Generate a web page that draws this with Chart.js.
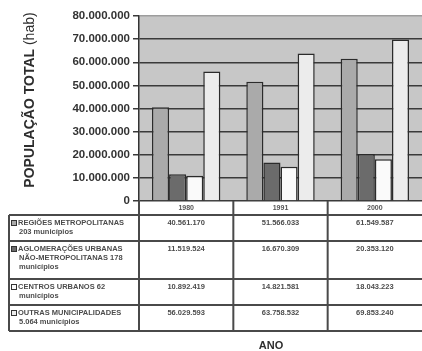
<!DOCTYPE html>
<html>
<head>
<meta charset="utf-8">
<script src="https://cdn.jsdelivr.net/npm/chart.js@4/dist/chart.umd.min.js"></script>
<style>
  html, body { margin: 0; padding: 0; background: #ffffff; }
  #wrap { width: 422px; height: 351px; position: relative; }
</style>
</head>
<body>
<div id="wrap"><canvas id="c"></canvas></div>
<script>
// Population by urban category, Brazil census years
const years = ['1980', '1991', '2000'];
const regioesMetropolitanas = [40561170, 51566033, 61549587];
const aglomeracoesUrbanas = [11519524, 16670309, 20353120];
const centrosUrbanos = [10892419, 14821581, 18043223];
const outrasMunicipalidades = [56029593, 63758532, 69853240];

const seriesLabels = [
  ['REGIÕES METROPOLITANAS', '203 municípios'],
  ['AGLOMERAÇÕES URBANAS', 'NÃO-METROPOLITANAS 178', 'municípios'],
  ['CENTROS URBANOS 62', 'municípios'],
  ['OUTRAS MUNICIPALIDADES', '5.064 municípios']
];
const seriesColors = ['#aaaaaa', '#6b6b6b', '#fafafa', '#ececec'];
const yTitleBold = 'POPULAÇÃO TOTAL ';
const yTitleRegular = '(hab)';
const xTitle = 'ANO';

const FONT = '"Liberation Sans", Arial, sans-serif';

function fmt(n) {
  return String(Math.round(n)).replace(/\B(?=(\d{3})+(?!\d))/g, '.');
}

// Plot background
const plotBg = {
  id: 'plotBg',
  beforeDraw(chart) {
    const { ctx, chartArea: a } = chart;
    ctx.save();
    ctx.fillStyle = '#c7c7c7';
    ctx.fillRect(a.left, a.top, a.right - a.left, a.bottom - a.top);
    ctx.restore();
  }
};

// Rotated y-axis title with a bold and a regular part
const yTitlePlugin = {
  id: 'yTitlePlugin',
  afterDraw(chart) {
    const ctx = chart.ctx;
    ctx.save();
    ctx.translate(30, 100);
    ctx.rotate(-Math.PI / 2);
    ctx.fillStyle = '#2e2e2e';
    ctx.textBaseline = 'middle';
    ctx.font = 'bold 14px ' + FONT;
    const w1 = ctx.measureText(yTitleBold).width;
    ctx.font = '14px ' + FONT;
    const w2 = ctx.measureText(yTitleRegular).width;
    let x = -(w1 + w2) / 2;
    ctx.font = 'bold 14px ' + FONT;
    ctx.textAlign = 'left';
    ctx.fillText(yTitleBold, x, 0);
    ctx.font = '14px ' + FONT;
    ctx.fillText(yTitleRegular, x + w1, 0);
    ctx.restore();
  }
};

// Data table under the plot, aligned with the category scale
const tablePlugin = {
  id: 'tablePlugin',
  afterDraw(chart) {
    const ctx = chart.ctx;
    const xs = chart.scales.x;
    const a = chart.chartArea;
    const sets = chart.data.datasets;
    const top = a.bottom;
    const headerBottom = top + 14;
    const tableLeft = 9;
    const tableRight = chart.width;
    const lineH = 9;

    // row extents
    const rows = [];
    let y = headerBottom;
    seriesLabels.forEach(lines => {
      const h = lines.length * 12 + 2;
      rows.push({ top: y, bottom: y + h, lines });
      y += h;
    });
    const tableBottom = y;

    const half = (xs.getPixelForValue(1) - xs.getPixelForValue(0)) / 2;
    const bounds = years.map((_, i) => xs.getPixelForValue(i) - half);

    ctx.save();
    ctx.strokeStyle = '#4a4a4a';
    ctx.lineWidth = 2;
    // horizontal rules
    ctx.beginPath();
    ctx.moveTo(bounds[0], headerBottom); ctx.lineTo(tableRight, headerBottom);
    rows.forEach(r => { ctx.moveTo(tableLeft, r.bottom); ctx.lineTo(tableRight, r.bottom); });
    ctx.moveTo(tableLeft, headerBottom); ctx.lineTo(bounds[0], headerBottom);
    // vertical rules
    ctx.moveTo(tableLeft, headerBottom); ctx.lineTo(tableLeft, tableBottom);
    bounds.forEach(b => { ctx.moveTo(b, top); ctx.lineTo(b, tableBottom); });
    ctx.stroke();

    // header years
    ctx.fillStyle = '#555555';
    ctx.textAlign = 'center';
    ctx.textBaseline = 'middle';
    ctx.font = 'bold 7px ' + FONT;
    years.forEach((yr, i) => ctx.fillText(yr, xs.getPixelForValue(i), top + 7));

    rows.forEach((r, si) => {
      // legend square
      const ly = r.top + 8;
      ctx.fillStyle = seriesColors[si];
      ctx.fillRect(11, ly - 3, 6, 6);
      ctx.strokeStyle = '#333333';
      ctx.lineWidth = 1;
      ctx.strokeRect(11.5, ly - 2.5, 5, 5);
      // label lines
      ctx.fillStyle = '#4c4c4c';
      ctx.textAlign = 'left';
      ctx.font = 'bold 7.5px ' + FONT;
      r.lines.forEach((ln, li) => {
        ctx.fillText(ln, li === 0 ? 18 : 19, ly + li * lineH);
      });
      // values
      ctx.textAlign = 'center';
      ctx.font = 'bold 7.5px ' + FONT;
      sets[si].data.forEach((v, i) => ctx.fillText(fmt(v), xs.getPixelForValue(i), ly));
    });

    // x-axis title
    ctx.fillStyle = '#2e2e2e';
    ctx.font = 'bold 11px ' + FONT;
    ctx.textAlign = 'center';
    ctx.fillText(xTitle, 271, 346);
    ctx.restore();
  }
};

const barStyle = { borderColor: '#2b2b2b', borderWidth: 1.5, borderSkipped: 'bottom' };

new Chart(document.getElementById('c'), {
  type: 'bar',
  data: {
    labels: years,
    datasets: [
      { label: seriesLabels[0].join(' '), data: regioesMetropolitanas, backgroundColor: seriesColors[0], ...barStyle },
      { label: seriesLabels[1].join(' '), data: aglomeracoesUrbanas, backgroundColor: seriesColors[1], ...barStyle },
      { label: seriesLabels[2].join(' '), data: centrosUrbanos, backgroundColor: seriesColors[2], ...barStyle },
      { label: seriesLabels[3].join(' '), data: outrasMunicipalidades, backgroundColor: seriesColors[3], ...barStyle }
    ]
  },
  options: {
    responsive: true,
    maintainAspectRatio: false,
    animation: false,
    layout: { padding: { left: 0, right: -3, top: 16, bottom: 0 } },
    datasets: { bar: { categoryPercentage: 0.725, barPercentage: 1 } },
    plugins: {
      legend: { display: false },
      tooltip: { enabled: false },
      title: { display: false }
    },
    scales: {
      x: {
        ticks: { display: false },
        grid: { display: false, drawTicks: false },
        border: { display: false },
        afterFit(scale) { scale.height = 150; }
      },
      y: {
        min: 0,
        max: 80000000,
        ticks: {
          stepSize: 10000000,
          padding: 3,
          color: '#333333',
          font: { family: FONT, size: 11.5, weight: 'bold' },
          callback: v => fmt(v)
        },
        grid: {
          color: c => (c.tick && c.tick.value === 80000000 ? '#9d9d9d' : '#3a3a3a'),
          tickColor: '#3a3a3a',
          lineWidth: 1.5,
          tickLength: 6
        },
        border: { color: '#333333', width: 1.5 },
        afterFit(scale) { scale.width = 139; }
      }
    }
  },
  plugins: [plotBg, yTitlePlugin, tablePlugin]
});
</script>
</body>
</html>
